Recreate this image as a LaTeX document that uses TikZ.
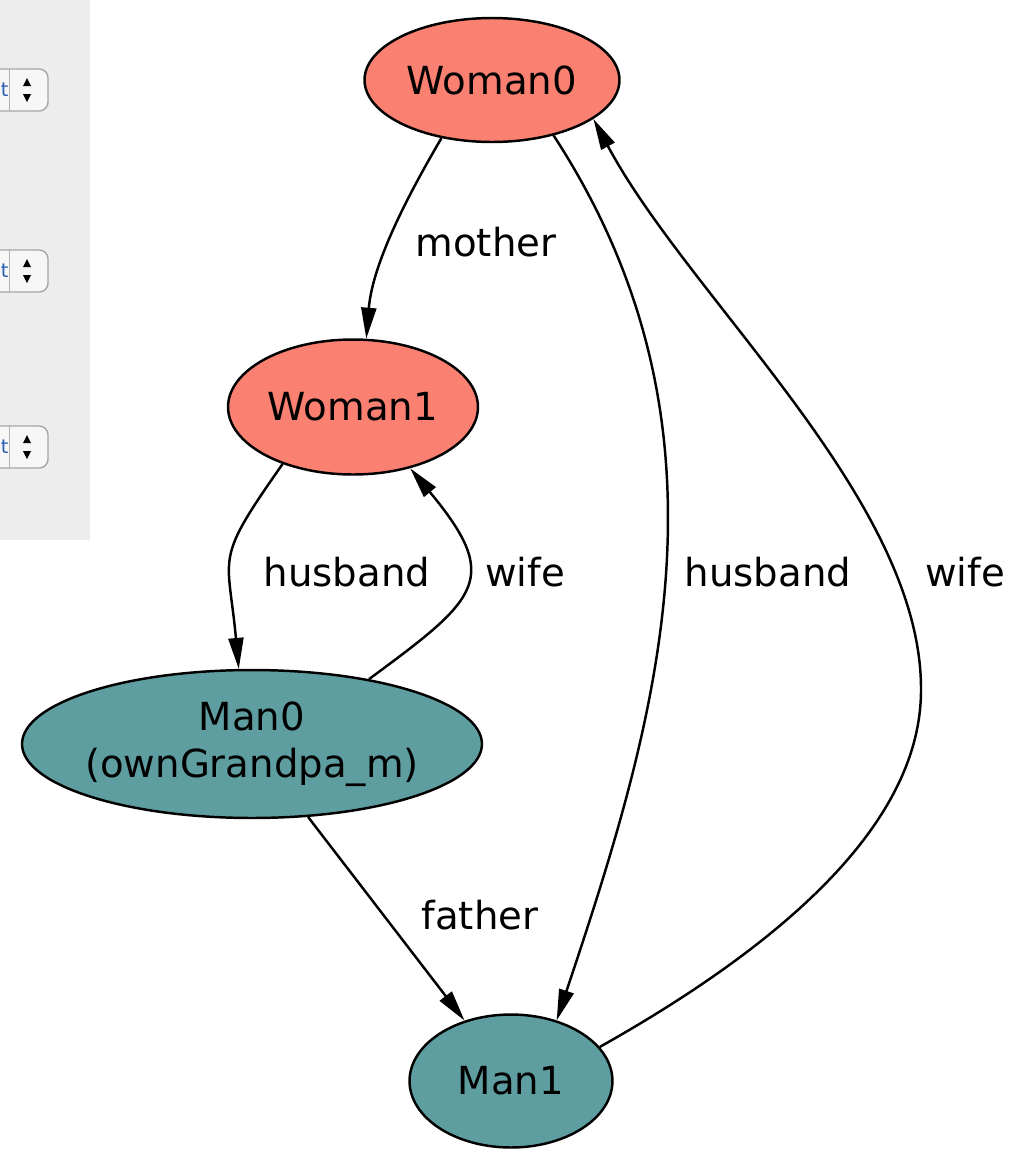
\documentclass[tikz,border=0pt]{standalone}
\usepackage{fontspec}
\setmainfont{DejaVu Sans}
\usetikzlibrary{shapes.geometric,arrows.meta}
\definecolor{womanfill}{HTML}{FA8072}
\definecolor{manfill}{HTML}{5F9EA0}
\definecolor{panelgray}{HTML}{EDEDED}
\definecolor{popupblue}{HTML}{2A5DB0}

\begin{document}
\begin{tikzpicture}[
    x=0.02cm, y=-0.02cm,
    person/.style={
      ellipse,
      draw=black,
      line width=1.4pt,
      inner sep=0pt,
      align=center,
      font=\fontsize{22}{27}\selectfont
    },
    womannode/.style={person, fill=womanfill},
    mannode/.style={person, fill=manfill},
    relarrow/.style={draw=black, line width=1.4pt, -{Triangle[length=0.62cm,width=0.3cm]}},
    rellabel/.style={font=\fontsize{22}{27}\selectfont, inner sep=0pt},
    popup/.style={draw=gray!70, line width=0.8pt, rounded corners=5pt, fill=gray!6}
  ]

  \useasboundingbox (0,0) rectangle (1015,1160);

  % Side panel with the three popup buttons
  \fill[panelgray] (0,0) rectangle (90,540);
  \foreach \py [count=\i] in {90,271,447} {
    \draw[popup] (-60,\py-21) rectangle (48,\py+21);
    \draw[gray!60] (9,\py-21) -- (9,\py+21);
    \fill (27,\py-12) -- (31,\py-4) -- (23,\py-4) -- cycle;
    \fill (27,\py+12) -- (31,\py+4) -- (23,\py+4) -- cycle;
    \node[text=popupblue, font=\fontsize{11}{13}\selectfont, inner sep=0pt, anchor=west] (popup\i) at (0.5,\py) {t};
  }

  % Family members
  \node[womannode, minimum width=5.1cm, minimum height=2.48cm] (woman0) at (492,80) {Woman0};
  \node[womannode, minimum width=5.0cm, minimum height=2.7cm] (woman1) at (353,407) {Woman1};
  \node[mannode, inner xsep=-8pt, minimum width=9.2cm, minimum height=2.96cm] (man0) at (252,744) {Man0\\(ownGrandpa\_m)};
  \node[mannode, minimum width=4.06cm, minimum height=2.66cm] (man1) at (511,1081) {Man1};

  % Relations
  \draw[relarrow] (woman0.229) .. controls (398,212) and (372,270) .. (woman1.79);
  \draw[relarrow] (woman1.219) .. controls (213,563) and (228,552) .. (man0.100);
  \draw[relarrow] (man0.29) .. controls (479,598) and (502,579) .. (woman1.-47);
  \draw[relarrow] (woman0.-42) .. controls (746,431) and (657,720) .. (man1.53);
  \coordinate (wifebend) at (921,690);
  \draw[relarrow] (man1.21) .. controls (790,940) and (921,820) .. (wifebend)
    .. controls (922,500) and (690,300) .. (woman0.-21);
  \draw[relarrow] (man0) -- (man1);

  % Relation names
  \node[rellabel] (lmother) at (486,242) {mother};
  \node[rellabel] (lhusband1) at (347,572) {husband};
  \node[rellabel] (lwife1) at (525,572) {wife};
  \node[rellabel] (lhusband0) at (768,572) {husband};
  \node[rellabel] (lwife0) at (965,572) {wife};
  \node[rellabel] (lfather) at (480,915) {father};

\end{tikzpicture}
\end{document}
